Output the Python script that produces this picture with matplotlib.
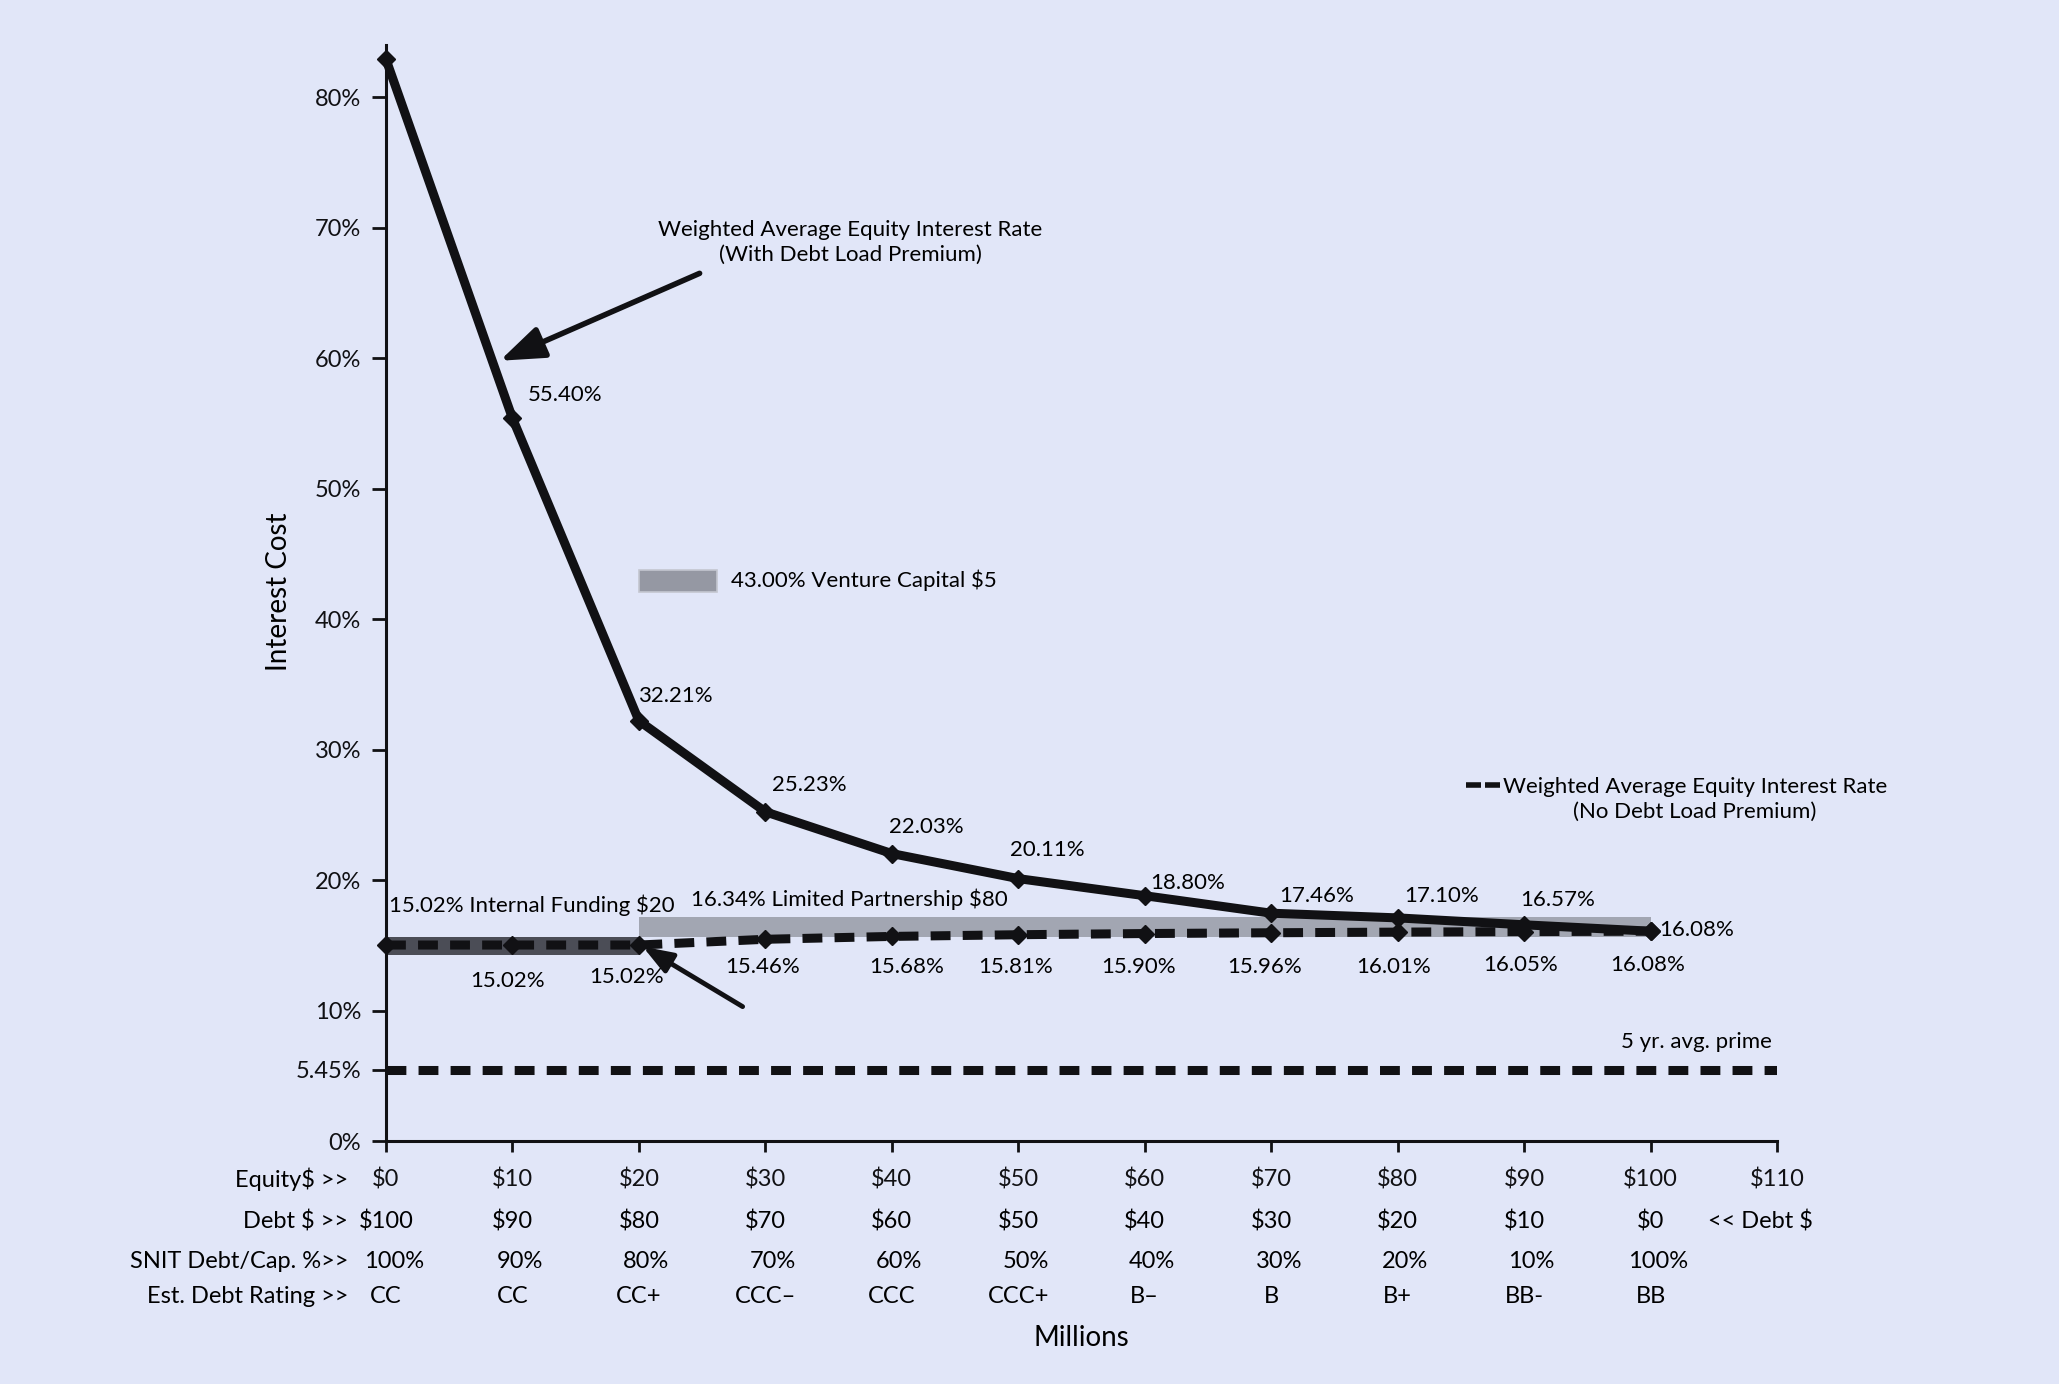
import matplotlib.pyplot as plt

plt.rcParams['font.family'] = ['Lato', 'DejaVu Sans']

# data
equity = [0, 10, 20, 30, 40, 50, 60, 70, 80, 90, 100]
debt_labels = ['$100', '$90', '$80', '$70', '$60', '$50', '$40', '$30', '$20', '$10', '$0']
snit_labels = ['100%', '90%', '80%', '70%', '60%', '50%', '40%', '30%', '20%', '10%', '100%']
rating_labels = ['CC', 'CC', 'CC+', 'CCC\u2013', 'CCC', 'CCC+', 'B\u2013', 'B', 'B+', 'BB-', 'BB']
rate_premium = [82.9, 55.40, 32.21, 25.23, 22.03, 20.11, 18.80, 17.46, 17.10, 16.57, 16.08]
rate_no_premium = [15.02, 15.02, 15.02, 15.46, 15.68, 15.81, 15.90, 15.96, 16.01, 16.05, 16.08]
prime_x = [0, 110]
prime_rate = [5.45, 5.45]
equity_ticks = [0, 10, 20, 30, 40, 50, 60, 70, 80, 90, 100, 110]
y_ticks = [0, 5.45, 10, 20, 30, 40, 50, 60, 70, 80]
y_tick_labels = ['0%', '5.45%', '10%', '20%', '30%', '40%', '50%', '60%', '70%', '80%']

# bands: x start, x end, y low, y high
internal_funding = [0, 20, 14.25, 15.63]
limited_partnership = [20, 100, 15.63, 17.16]
venture_box = [20, 26.2, 42.07, 43.8]

bg = '#e1e6f8'
ink = '#111114'

fig = plt.figure(figsize=(20.59, 13.84), dpi=100)
fig.patch.set_facecolor(bg)
ax = fig.add_axes([386 / 2059, 1 - 1141 / 1384, (1777 - 386) / 2059, (1141 - 45) / 1384])
ax.set_facecolor(bg)
ax.set_xlim(0, 110)
ax.set_ylim(0, 84)
for s in ['top', 'right']:
    ax.spines[s].set_visible(False)
for s in ['left', 'bottom']:
    ax.spines[s].set_linewidth(2.2)
    ax.spines[s].set_color(ink)

ax.set_yticks(y_ticks)
ax.set_yticklabels(y_tick_labels, fontsize=17)
ax.set_xticks(equity_ticks)
ax.set_xticklabels(['$%d' % v for v in equity_ticks], fontsize=17)
ax.tick_params(axis='y', length=10, width=2, pad=8, colors=ink)
ax.tick_params(axis='x', length=8, width=2, pad=12, colors=ink)


def band(b, **kw):
    ax.bar(b[0], b[3] - b[2], width=b[1] - b[0], bottom=b[2], align='edge', zorder=1, **kw)


band(internal_funding, color='#4b4d56')
band(limited_partnership, color='#a2a6b2')
band(venture_box, color='#9598a3', edgecolor='#c3c6d0', linewidth=1.2)

# lines
ax.plot(equity, rate_premium, color=ink, lw=6.5, marker='D', ms=9,
        solid_joinstyle='miter', zorder=4, clip_on=False)
ax.plot(equity, rate_no_premium, color=ink, lw=6.5, dashes=(2.2, 1.35),
        dash_capstyle='butt', marker='D', ms=9, zorder=3, clip_on=False)
ax.plot(prime_x, prime_rate, color=ink, lw=6.5, dashes=(2.2, 1.35),
        dash_capstyle='butt', zorder=3)

# labels on the premium line
fs = 16
ax.text(11.2, 57.2, '55.40%', fontsize=fs, va='center', ha='left')
ax.text(19.9, 34.1, '32.21%', fontsize=fs, va='center', ha='left')
ax.text(33.5, 27.3, '25.23%', fontsize=fs, va='center', ha='center')
ax.text(42.7, 24.1, '22.03%', fontsize=fs, va='center', ha='center')
ax.text(52.3, 22.3, '20.11%', fontsize=fs, va='center', ha='center')
ax.text(60.4, 19.8, '18.80%', fontsize=fs, va='center', ha='left')
ax.text(70.6, 18.8, '17.46%', fontsize=fs, va='center', ha='left')
ax.text(80.5, 18.8, '17.10%', fontsize=fs, va='center', ha='left')
ax.text(89.7, 18.5, '16.57%', fontsize=fs, va='center', ha='left')
ax.text(100.7, 16.2, '16.08%', fontsize=fs, va='center', ha='left')

# labels on the no-premium line
low_x = [9.6, 19.0, 29.8, 41.2, 49.8, 59.5, 69.5, 79.7, 89.7, 99.8]
low_y = [12.3, 12.6, 13.3, 13.3, 13.3, 13.3, 13.3, 13.3, 13.5, 13.5]
for x, y, v in zip(low_x, low_y, rate_no_premium[1:]):
    ax.text(x, y, '%.2f%%' % v, fontsize=fs, va='center', ha='center')

ax.text(0.2, 18.1, '15.02% Internal Funding $20', fontsize=fs, va='center', ha='left')
ax.text(24.1, 18.5, '16.34% Limited Partnership $80', fontsize=fs, va='center', ha='left')
ax.text(27.3, 43.0, '43.00% Venture Capital $5', fontsize=fs, va='center', ha='left')
ax.text(109.6, 7.6, '5 yr. avg. prime', fontsize=fs, va='center', ha='right')

ax.text(36.7, 68.9, 'Weighted Average Equity Interest Rate\n(With Debt Load Premium)',
        fontsize=fs, ha='center', va='center', linespacing=1.3)
ax.annotate('', xy=(9.0, 59.8), xytext=(24.8, 66.5),
            arrowprops=dict(arrowstyle='-|>,head_length=0.6,head_width=0.22',
                            mutation_scale=45, lw=4, color=ink, shrinkA=0, shrinkB=0))
ax.annotate('', xy=(20.3, 14.9), xytext=(28.2, 10.3),
            arrowprops=dict(arrowstyle='-|>,head_length=0.6,head_width=0.22',
                            mutation_scale=30, lw=3.5, color=ink, shrinkA=0, shrinkB=0),
            zorder=5)

# legend for the dashed line
ax.plot([85.4, 86.6], [27.3, 27.3], color=ink, lw=4, solid_capstyle='butt', clip_on=False)
ax.plot([86.9, 88.1], [27.3, 27.3], color=ink, lw=4, solid_capstyle='butt', clip_on=False)
ax.text(103.5, 26.2, 'Weighted Average Equity Interest Rate\n(No Debt Load Premium)',
        fontsize=fs, ha='center', va='center', linespacing=1.3)

# table rows under the axis
trans = ax.get_xaxis_transform()
row_y = [-0.0347, -0.0739, -0.1095, -0.1423]
row_names = ['Equity$ >>', 'Debt $ >>', 'SNIT Debt/Cap. %>>', 'Est. Debt Rating >>']
for y, name in zip(row_y, row_names):
    ax.text(-3.0, y, name, transform=trans, fontsize=17, ha='right', va='center')
for x, d, p, r in zip(equity, debt_labels, snit_labels, rating_labels):
    ax.text(x, row_y[1], d, transform=trans, fontsize=17, ha='center', va='center')
    ax.text(x + 0.6, row_y[2], p, transform=trans, fontsize=17, ha='center', va='center')
    ax.text(x, row_y[3], r, transform=trans, fontsize=17, ha='center', va='center')
ax.text(108.7, row_y[1], '<< Debt $', transform=trans, fontsize=17, ha='center', va='center')

ax.text(55, -0.1797, 'Millions', transform=trans, fontsize=20, ha='center', va='center')
ax.text(-8.5, 42.1, 'Interest Cost', fontsize=20, rotation=90, ha='center', va='center')

fig.savefig('out.png', dpi=100, facecolor=bg)
